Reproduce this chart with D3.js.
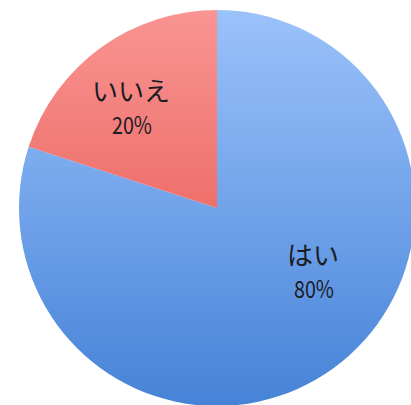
<!DOCTYPE html>
<html>
<head>
<meta charset="utf-8">
<script src="https://cdn.jsdelivr.net/npm/d3@7"></script>
<style>
  body { margin: 0; background: #fff; }
  svg { display: block; }
</style>
</head>
<body>
<svg id="pie_chart"></svg>
<script>
var labels = ["はい", "いいえ"];
var values = [80, 20];
var percents = ["80%", "20%"];

var width = 411, height = 405;
var cx = 217, cy = 208, radius = 198;

var svg = d3.select("#pie_chart")
  .attr("width", width)
  .attr("height", height);

var defs = svg.append("defs");
var grads = [
  {id: "gBlue", top: "#9bc2f9", mid: "#71a3ea", bottom: "#4682d6"},
  {id: "gRed", top: "#f99593", mid: "#ee6f6a", bottom: "#dd3f38"}
];
grads.forEach(function(g) {
  var lg = defs.append("linearGradient")
    .attr("id", g.id)
    .attr("gradientUnits", "userSpaceOnUse")
    .attr("x1", 0).attr("y1", -radius)
    .attr("x2", 0).attr("y2", radius);
  lg.append("stop").attr("offset", "0%").attr("stop-color", g.top);
  lg.append("stop").attr("offset", "50%").attr("stop-color", g.mid);
  lg.append("stop").attr("offset", "100%").attr("stop-color", g.bottom);
});

var color = d3.scaleOrdinal()
  .domain(labels)
  .range(["url(#gBlue)", "url(#gRed)"]);

var data = labels.map(function(l, i) { return {name: l, value: values[i], pct: percents[i]}; });

var pie = d3.pie().sort(null).value(d => d.value);
var arc = d3.arc().innerRadius(0).outerRadius(radius);

var g = svg.append("g").attr("transform", `translate(${cx},${cy})`);

g.selectAll("path")
  .data(pie(data))
  .join("path")
    .attr("d", arc)
    .attr("fill", d => color(d.data.name));

// label placement (excel style: big slice label pulled toward the side)
var labelPos = {"はい": {r: 0.578, shift: -21}, "いいえ": {r: 0.672, shift: -4.3}};

function labelXY(d) {
  var p = labelPos[d.data.name];
  var a = (d.startAngle + d.endAngle) / 2 + p.shift * Math.PI / 180;
  var r = radius * p.r;
  return [Math.sin(a) * r, -Math.cos(a) * r];
}

var lab = g.selectAll("g.lab")
  .data(pie(data))
  .join("g")
    .attr("class", "lab")
    .attr("transform", d => `translate(${labelXY(d)})`);

lab.append("text")
  .attr("y", -17)
  .attr("text-anchor", "middle")
  .attr("dominant-baseline", "central")
  .style("font-family", "Noto Sans CJK JP")
  .style("font-size", "26px")
  .style("fill", "#1c1c24")
  .text(d => d.data.name);

lab.append("text")
  .attr("transform", "translate(1,17) scale(0.82,1)")
  .attr("text-anchor", "middle")
  .attr("dominant-baseline", "central")
  .style("font-family", "Noto Sans CJK JP")
  .style("font-size", "24px")
  .style("fill", "#1c1c24")
  .text(d => d.data.pct);
</script>
</body>
</html>
